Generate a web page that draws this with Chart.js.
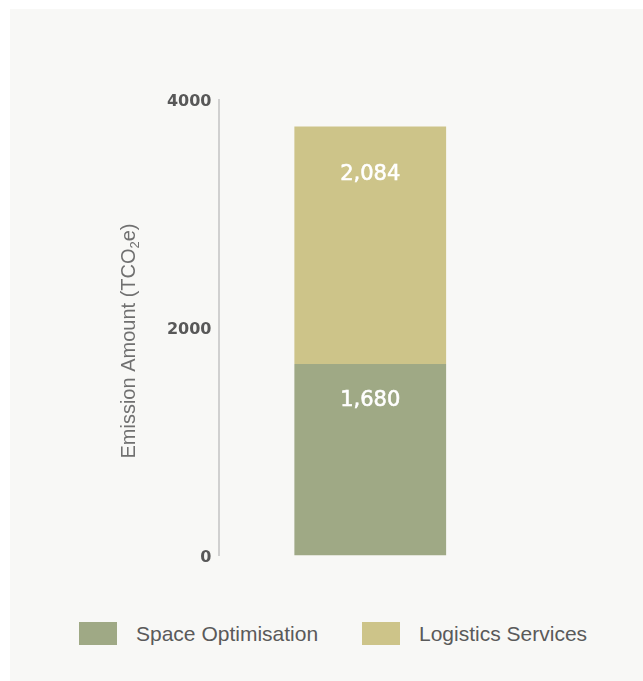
<!DOCTYPE html>
<html>
<head>
<meta charset="utf-8">
<script src="https://cdn.jsdelivr.net/npm/chart.js@4.4.1/dist/chart.umd.min.js"></script>
<style>
  body { margin: 0; background: #fff; }
  .panel { position: absolute; left: 10px; top: 9px; width: 633px; height: 672px; background: #f8f8f6; }
  canvas { position: absolute; left: 0; top: 0; }
  .legend-item { position: absolute; top: 613px; display: flex; align-items: center; height: 23px;
    font-family: "Liberation Sans", Arial, sans-serif; font-size: 21px; color: #5a5a5a; white-space: nowrap; }
  .legend-item span.box { width: 38px; height: 23px; margin-right: 19px; display: inline-block; }
</style>
</head>
<body>
<div class="panel">
  <canvas id="chart" width="633" height="600"></canvas>
  <div class="legend-item" style="left:69px"><span class="box" style="background:#9fa985"></span>Space Optimisation</div>
  <div class="legend-item" style="left:352px"><span class="box" style="background:#cdc489"></span>Logistics Services</div>
</div>
<script>
const categories = [''];
const spaceOptimisation = [1680];
const logisticsServices = [2084];
const yTicks = [0, 2000, 4000];

const green = '#9fa985';
const khaki = '#cdc489';
// how far below each segment's top edge its value sits
const labelDrop = [37, 48];

// white totals inside each stacked segment
const valueLabels = {
  id: 'valueLabels',
  afterDatasetsDraw(chart) {
    const ctx = chart.ctx;
    ctx.save();
    ctx.font = '21px "DejaVu Sans"';
    ctx.fillStyle = '#ffffff';
    ctx.strokeStyle = '#ffffff';
    ctx.lineWidth = 0.6;
    ctx.textAlign = 'center';
    ctx.textBaseline = 'middle';
    chart.data.datasets.forEach((ds, i) => {
      chart.getDatasetMeta(i).data.forEach((bar, j) => {
        const txt = ds.data[j].toLocaleString('en-US');
        ctx.fillText(txt, bar.x, bar.y + labelDrop[i]);
        ctx.strokeText(txt, bar.x, bar.y + labelDrop[i]);
      });
    });
    ctx.restore();
  }
};

// rotated y title with a real subscript 2
const yTitle = {
  id: 'yTitle',
  afterDraw(chart) {
    const ctx = chart.ctx;
    const area = chart.chartArea;
    const big = '20px "Liberation Sans", Arial';
    const small = '13px "Liberation Sans", Arial';
    const parts = [['Emission Amount (TCO', big, 0], ['2', small, 4], ['e)', big, 0]];
    ctx.save();
    ctx.fillStyle = '#707070';
    ctx.textBaseline = 'alphabetic';
    ctx.textAlign = 'left';
    let total = 0;
    const widths = parts.map(p => { ctx.font = p[1]; const w = ctx.measureText(p[0]).width; total += w; return w; });
    ctx.translate(area.left - 90.5, (area.top + area.bottom) / 2 + 13.5);
    ctx.rotate(-Math.PI / 2);
    let x = -total / 2;
    parts.forEach((p, i) => {
      ctx.font = p[1];
      ctx.fillText(p[0], x, 7 + p[2]);
      x += widths[i];
    });
    ctx.restore();
  }
};

new Chart(document.getElementById('chart'), {
  type: 'bar',
  data: {
    labels: categories,
    datasets: [
      { label: 'Space Optimisation', data: spaceOptimisation, backgroundColor: green },
      { label: 'Logistics Services', data: logisticsServices, backgroundColor: khaki }
    ]
  },
  options: {
    responsive: false,
    animation: false,
    layout: { padding: { left: 148.5, right: 121, top: 90.5, bottom: 53.5 } },
    datasets: { bar: { barPercentage: 1, categoryPercentage: 0.5 } },
    plugins: { legend: { display: false }, tooltip: { enabled: false } },
    scales: {
      x: { stacked: true, display: false },
      y: {
        stacked: true,
        min: 0,
        max: 4000,
        afterFit(scale) { scale.width = 60; },
        afterBuildTicks(scale) { scale.ticks = yTicks.map(v => ({ value: v })); },
        grid: { display: false, drawTicks: false },
        border: { display: true, color: '#d0d0d0', width: 2 },
        ticks: {
          padding: 7,
          labelOffset: 2,
          color: '#585858',
          font: { family: 'DejaVu Sans', size: 16, weight: 'bold' },
          callback: v => String(v)
        }
      }
    }
  },
  plugins: [valueLabels, yTitle]
});
</script>
</body>
</html>
